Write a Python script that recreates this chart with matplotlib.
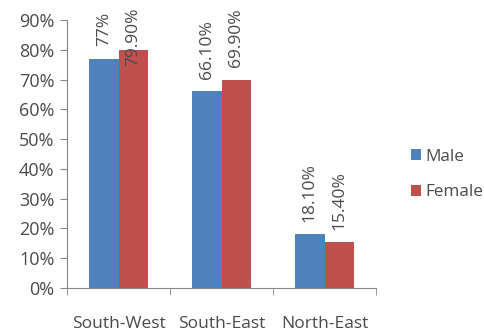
import matplotlib
matplotlib.use("Agg")
import matplotlib.pyplot as plt
from matplotlib.ticker import PercentFormatter, FixedLocator
import numpy as np

categories = ["South-West", "South-East", "North-East"]
male = [77.0, 66.1, 18.1]
female = [79.9, 69.9, 15.4]
male_labels = ["77%", "66.10%", "18.10%"]
female_labels = ["79.90%", "69.90%", "15.40%"]
series = [("Male", male, male_labels, "#4F81BD"), ("Female", female, female_labels, "#C0504D")]

plt.rcParams['font.family'] = ['Open Sans', 'DejaVu Sans']
txt = "#4a4a4a"
gray = "#868686"

fig = plt.figure(figsize=(4.84, 3.33), dpi=100)
ax = fig.add_axes([67/484, 45/333, (376-67)/484, (288-20)/333])

x = np.arange(len(categories))
w = 0.286
texts = []
for i, (name, vals, labs, col) in enumerate(series):
    pos = x + (i - 0.5) * w
    ax.bar(pos, vals, width=w, color=col, label=name, zorder=2)
    for px, v, lab in zip(pos, vals, labs):
        t = ax.annotate(lab, (px, v), xytext=(0, 9), textcoords='offset points',
                        rotation=90, ha='center', va='bottom', fontsize=12.5, color=txt,
                        annotation_clip=False)
        texts.append(t)

ax.set_xlim(-0.5, 2.5)
ax.set_ylim(0, 90)
ax.yaxis.set_major_locator(FixedLocator(np.arange(0, 91, 10)))
ax.yaxis.set_major_formatter(PercentFormatter(decimals=0))
ax.set_xticks(x)
ax.set_xticklabels(categories)
ax.xaxis.set_minor_locator(FixedLocator([-0.5, 0.5, 1.5, 2.5]))
ax.tick_params(axis='x', which='major', length=0, pad=20, labelsize=12.5, labelcolor=txt)
ax.tick_params(axis='x', which='minor', length=5, color=gray, direction='out')
ax.tick_params(axis='y', length=5, color=gray, direction='out', labelsize=13, labelcolor=txt, pad=4)
for s in ['top', 'right']:
    ax.spines[s].set_visible(False)
for s in ['left', 'bottom']:
    ax.spines[s].set_color(gray)

# keep labels within the figure
fig.canvas.draw()
r = fig.canvas.get_renderer()
H = fig.bbox.height
for t in texts:
    bb = t.get_window_extent(r)
    if bb.y1 > H - 8:
        shift = bb.y1 - (H - 8)
        t.set_position((0, 9 - shift * 72 / fig.dpi))

leg = fig.legend(loc='upper left', bbox_to_anchor=(404/484, 1 - 142/333), frameon=False,
                 fontsize=12.3, labelcolor=txt, handlelength=0.6, handleheight=0.6,
                 handletextpad=0.25, labelspacing=1.15, borderaxespad=0)

fig.savefig("out.png", dpi=100)
